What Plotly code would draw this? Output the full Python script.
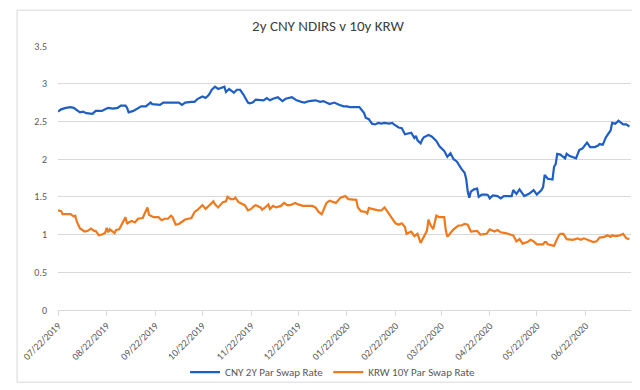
import plotly.graph_objects as go

# CNY 2Y Par Swap Rate
cny_dates = [
    "2019-07-22", "2019-07-24", "2019-07-27", "2019-07-30", "2019-08-01", "2019-08-03", "2019-08-05",
    "2019-08-07", "2019-08-09", "2019-08-13", "2019-08-15", "2019-08-17", "2019-08-19", "2019-08-21",
    "2019-08-23", "2019-08-26", "2019-08-28", "2019-08-29", "2019-08-31", "2019-09-03", "2019-09-04",
    "2019-09-05", "2019-09-08", "2019-09-10", "2019-09-13", "2019-09-16", "2019-09-17", "2019-09-19",
    "2019-09-20", "2019-09-24", "2019-09-25", "2019-09-27", "2019-09-30", "2019-10-07", "2019-10-09",
    "2019-10-11", "2019-10-15", "2019-10-17", "2019-10-19", "2019-10-22", "2019-10-24", "2019-10-26",
    "2019-10-28", "2019-10-30", "2019-11-01", "2019-11-03", "2019-11-05", "2019-11-06", "2019-11-08",
    "2019-11-10", "2019-11-11", "2019-11-13", "2019-11-15", "2019-11-17", "2019-11-20", "2019-11-21",
    "2019-11-23", "2019-11-25", "2019-11-28", "2019-11-30", "2019-12-02", "2019-12-04", "2019-12-06",
    "2019-12-09", "2019-12-12", "2019-12-14", "2019-12-18", "2019-12-21", "2019-12-24", "2019-12-26",
    "2019-12-29", "2020-01-02", "2020-01-05", "2020-01-07", "2020-01-11", "2020-01-14", "2020-01-17",
    "2020-01-20", "2020-01-22", "2020-01-24", "2020-01-30", "2020-02-02", "2020-02-03", "2020-02-05",
    "2020-02-07", "2020-02-09", "2020-02-11", "2020-02-13", "2020-02-15", "2020-02-18", "2020-02-20",
    "2020-02-21", "2020-02-24", "2020-02-26", "2020-02-28", "2020-03-01", "2020-03-03", "2020-03-05",
    "2020-03-06", "2020-03-07", "2020-03-09", "2020-03-10", "2020-03-11", "2020-03-14", "2020-03-16",
    "2020-03-19", "2020-03-21", "2020-03-24", "2020-03-26", "2020-03-28", "2020-03-30", "2020-04-01",
    "2020-04-02", "2020-04-04", "2020-04-06", "2020-04-07", "2020-04-08", "2020-04-09", "2020-04-10",
    "2020-04-12", "2020-04-14", "2020-04-15", "2020-04-17", "2020-04-20", "2020-04-21", "2020-04-22",
    "2020-04-24", "2020-04-27", "2020-04-29", "2020-05-01", "2020-05-06", "2020-05-07", "2020-05-09",
    "2020-05-11", "2020-05-14", "2020-05-17", "2020-05-20", "2020-05-22", "2020-05-25", "2020-05-26",
    "2020-05-27", "2020-05-29", "2020-06-01", "2020-06-02", "2020-06-03", "2020-06-04", "2020-06-06",
    "2020-06-09", "2020-06-10", "2020-06-12", "2020-06-16", "2020-06-18", "2020-06-20", "2020-06-23",
    "2020-06-25", "2020-06-28", "2020-06-30", "2020-07-01", "2020-07-03", "2020-07-05", "2020-07-08",
    "2020-07-09", "2020-07-11", "2020-07-13", "2020-07-16", "2020-07-18", "2020-07-20",
]
cny_values = [
    2.63, 2.66, 2.68, 2.69, 2.68, 2.65, 2.62,
    2.63, 2.61, 2.60, 2.64, 2.64, 2.64, 2.66,
    2.68, 2.67, 2.68, 2.68, 2.71, 2.71, 2.68,
    2.62, 2.64, 2.66, 2.70, 2.70, 2.72, 2.75,
    2.73, 2.73, 2.72, 2.75, 2.75, 2.75, 2.72,
    2.75, 2.76, 2.76, 2.80, 2.83, 2.81, 2.85,
    2.92, 2.96, 2.93, 2.95, 2.96, 2.89, 2.93,
    2.90, 2.88, 2.92, 2.92, 2.86, 2.75, 2.74,
    2.75, 2.79, 2.78, 2.78, 2.81, 2.78, 2.80,
    2.82, 2.77, 2.80, 2.82, 2.78, 2.76, 2.75,
    2.77, 2.78, 2.76, 2.77, 2.73, 2.75, 2.72,
    2.70, 2.70, 2.69, 2.69, 2.61, 2.55, 2.53,
    2.47, 2.46, 2.48, 2.47, 2.48, 2.47, 2.48,
    2.46, 2.42, 2.41, 2.33, 2.34, 2.35, 2.28,
    2.31, 2.25, 2.21, 2.26, 2.29, 2.32, 2.30,
    2.24, 2.17, 2.11, 2.03, 2.08, 2.00, 1.97,
    1.93, 1.87, 1.82, 1.74, 1.57, 1.49, 1.57,
    1.60, 1.61, 1.50, 1.53, 1.53, 1.52, 1.48,
    1.52, 1.51, 1.48, 1.51, 1.51, 1.59, 1.54,
    1.60, 1.51, 1.54, 1.59, 1.53, 1.59, 1.63,
    1.79, 1.74, 1.73, 1.90, 1.93, 2.07, 2.06,
    2.01, 2.07, 2.04, 2.01, 2.12, 2.14, 2.22,
    2.16, 2.16, 2.18, 2.20, 2.19, 2.29, 2.38,
    2.48, 2.47, 2.51, 2.46, 2.46, 2.43,
]

# KRW 10Y Par Swap Rate
krw_dates = [
    "2019-07-22", "2019-07-24", "2019-07-25", "2019-07-28", "2019-07-30", "2019-08-01", "2019-08-02",
    "2019-08-03", "2019-08-05", "2019-08-08", "2019-08-10", "2019-08-12", "2019-08-14", "2019-08-15",
    "2019-08-17", "2019-08-19", "2019-08-21", "2019-08-22", "2019-08-23", "2019-08-24", "2019-08-25",
    "2019-08-27", "2019-08-28", "2019-08-30", "2019-09-01", "2019-09-03", "2019-09-04", "2019-09-05",
    "2019-09-07", "2019-09-09", "2019-09-11", "2019-09-14", "2019-09-15", "2019-09-17", "2019-09-18",
    "2019-09-21", "2019-09-24", "2019-09-26", "2019-09-28", "2019-09-30", "2019-10-02", "2019-10-03",
    "2019-10-05", "2019-10-07", "2019-10-09", "2019-10-11", "2019-10-15", "2019-10-17", "2019-10-19",
    "2019-10-22", "2019-10-24", "2019-10-25", "2019-10-27", "2019-10-29", "2019-10-30", "2019-11-01",
    "2019-11-04", "2019-11-06", "2019-11-07", "2019-11-09", "2019-11-11", "2019-11-12", "2019-11-14",
    "2019-11-16", "2019-11-18", "2019-11-20", "2019-11-22", "2019-11-24", "2019-11-25", "2019-11-28",
    "2019-11-29", "2019-12-01", "2019-12-03", "2019-12-04", "2019-12-06", "2019-12-08", "2019-12-11",
    "2019-12-13", "2019-12-15", "2019-12-17", "2019-12-20", "2019-12-22", "2019-12-25", "2019-12-27",
    "2019-12-31", "2020-01-02", "2020-01-04", "2020-01-06", "2020-01-07", "2020-01-09", "2020-01-11",
    "2020-01-13", "2020-01-15", "2020-01-18", "2020-01-20", "2020-01-21", "2020-01-23", "2020-01-25",
    "2020-01-28", "2020-01-29", "2020-01-31", "2020-02-03", "2020-02-04", "2020-02-05", "2020-02-07",
    "2020-02-09", "2020-02-11", "2020-02-13", "2020-02-15", "2020-02-16", "2020-02-18", "2020-02-20",
    "2020-02-22", "2020-02-24", "2020-02-26", "2020-02-28", "2020-02-29", "2020-03-02", "2020-03-03",
    "2020-03-05", "2020-03-07", "2020-03-09", "2020-03-11", "2020-03-13", "2020-03-14", "2020-03-15",
    "2020-03-17", "2020-03-19", "2020-03-21", "2020-03-24", "2020-03-25", "2020-03-26", "2020-03-28",
    "2020-03-30", "2020-04-02", "2020-04-04", "2020-04-06", "2020-04-08", "2020-04-10", "2020-04-13",
    "2020-04-14", "2020-04-16", "2020-04-18", "2020-04-20", "2020-04-22", "2020-04-25", "2020-04-27",
    "2020-04-29", "2020-05-02", "2020-05-05", "2020-05-07", "2020-05-09", "2020-05-11", "2020-05-13",
    "2020-05-16", "2020-05-18", "2020-05-20", "2020-05-22", "2020-05-24", "2020-05-26", "2020-05-27",
    "2020-05-28", "2020-05-29", "2020-05-31", "2020-06-02", "2020-06-03", "2020-06-05", "2020-06-06",
    "2020-06-08", "2020-06-10", "2020-06-12", "2020-06-14", "2020-06-17", "2020-06-19", "2020-06-21",
    "2020-06-23", "2020-06-25", "2020-06-27", "2020-06-29", "2020-07-01", "2020-07-04", "2020-07-06",
    "2020-07-08", "2020-07-09", "2020-07-11", "2020-07-14", "2020-07-16", "2020-07-17", "2020-07-18",
    "2020-07-20",
]
krw_values = [
    1.32, 1.31, 1.27, 1.27, 1.27, 1.24, 1.25,
    1.17, 1.08, 1.04, 1.05, 1.08, 1.05, 1.05,
    0.99, 1.00, 1.02, 1.09, 1.03, 1.07, 1.05,
    1.02, 1.06, 1.07, 1.15, 1.23, 1.14, 1.16,
    1.18, 1.16, 1.21, 1.22, 1.27, 1.36, 1.26,
    1.23, 1.23, 1.19, 1.21, 1.21, 1.25, 1.23,
    1.13, 1.14, 1.17, 1.20, 1.22, 1.30, 1.33,
    1.39, 1.34, 1.36, 1.41, 1.44, 1.40, 1.36,
    1.43, 1.44, 1.50, 1.47, 1.47, 1.49, 1.43,
    1.41, 1.39, 1.32, 1.34, 1.38, 1.39, 1.36,
    1.33, 1.36, 1.40, 1.34, 1.38, 1.36, 1.38,
    1.42, 1.39, 1.39, 1.42, 1.40, 1.38, 1.38,
    1.38, 1.36, 1.30, 1.27, 1.32, 1.42, 1.45,
    1.44, 1.42, 1.49, 1.50, 1.51, 1.47, 1.47,
    1.46, 1.36, 1.31, 1.30, 1.28, 1.35, 1.34,
    1.32, 1.32, 1.32, 1.36, 1.33, 1.27, 1.22,
    1.15, 1.13, 1.15, 1.10, 1.01, 1.03, 1.04,
    0.98, 1.01, 0.89, 0.98, 1.05, 1.20, 1.14,
    1.07, 1.25, 1.23, 1.23, 1.06, 0.97, 1.02,
    1.07, 1.12, 1.12, 1.14, 1.13, 1.04, 1.05,
    1.05, 1.00, 1.00, 1.01, 1.07, 1.04, 1.06,
    1.03, 1.02, 1.00, 0.99, 0.91, 0.94, 0.88,
    0.90, 0.93, 0.91, 0.87, 0.87, 0.87, 0.90,
    0.90, 0.87, 0.86, 0.85, 0.90, 0.99, 1.01,
    1.01, 0.94, 0.93, 0.93, 0.95, 0.93, 0.95,
    0.93, 0.91, 0.90, 0.91, 0.96, 0.97, 0.99,
    0.97, 0.99, 0.98, 0.99, 1.01, 0.97, 0.95,
    0.94,
]

tick_dates = [
    "2019-07-22", "2019-08-22", "2019-09-22", "2019-10-22", "2019-11-22", "2019-12-22",
    "2020-01-22", "2020-02-22", "2020-03-22", "2020-04-22", "2020-05-22", "2020-06-22",
]
tick_labels = [
    "07/22/2019", "08/22/2019", "09/22/2019", "10/22/2019", "11/22/2019", "12/22/2019",
    "01/22/2020", "02/22/2020", "03/22/2020", "04/22/2020", "05/22/2020", "06/22/2020",
]

FONT = "Carlito, Calibri, Lato, 'Open Sans', sans-serif"
BLUE = "#1F5FC4"
ORANGE = "#EF7A1E"

fig = go.Figure()
fig.add_trace(go.Scatter(x=cny_dates, y=cny_values, mode="lines", name="CNY 2Y Par Swap Rate",
                         line=dict(color=BLUE, width=2.2)))
fig.add_trace(go.Scatter(x=krw_dates, y=krw_values, mode="lines", name="KRW 10Y Par Swap Rate",
                         line=dict(color=ORANGE, width=2.2)))

fig.update_layout(
    width=640, height=390,
    margin=dict(l=42, r=17, t=38, b=76),
    paper_bgcolor="white", plot_bgcolor="white",
    font=dict(family=FONT, color="#595959", size=10),
    title=dict(text="2y CNY NDIRS v 10y KRW", x=0.5, xanchor="center", y=0.955, yanchor="middle",
               font=dict(family=FONT, size=15, color="#404040")),
    showlegend=True,
    legend=dict(orientation="h", x=0.48, xanchor="center", y=-0.235, yanchor="middle",
                font=dict(family=FONT, size=11, color="#595959"), itemwidth=30,
                bgcolor="rgba(0,0,0,0)"),
    xaxis=dict(
        type="date", range=["2019-07-22", "2020-07-21"],
        tickmode="array", tickvals=tick_dates, ticktext=tick_labels, tickangle=-45,
        showgrid=False, showline=True, linecolor="#D9D9D9", linewidth=1,
        ticks="outside", ticklen=5, tickcolor="#D9D9D9",
        tickfont=dict(family=FONT, size=10, color="#595959"), zeroline=False,
    ),
    yaxis=dict(
        range=[0, 3.5], dtick=0.5, tick0=0, showgrid=True, gridcolor="#D9D9D9", gridwidth=1,
        zeroline=False, showline=False, ticks="", ticklabelstandoff=10,
        tickfont=dict(family=FONT, size=10, color="#595959"),
    ),
    shapes=[dict(type="rect", xref="paper", yref="paper",
                 x0=(0.5 - 42) / 581, x1=(639.5 - 42) / 581,
                 y0=(314 - 389.5) / 276, y1=(314 - 0.5) / 276,
                 line=dict(color="#D9D9D9", width=1), layer="below")],
)

fig.write_html("out.html")
